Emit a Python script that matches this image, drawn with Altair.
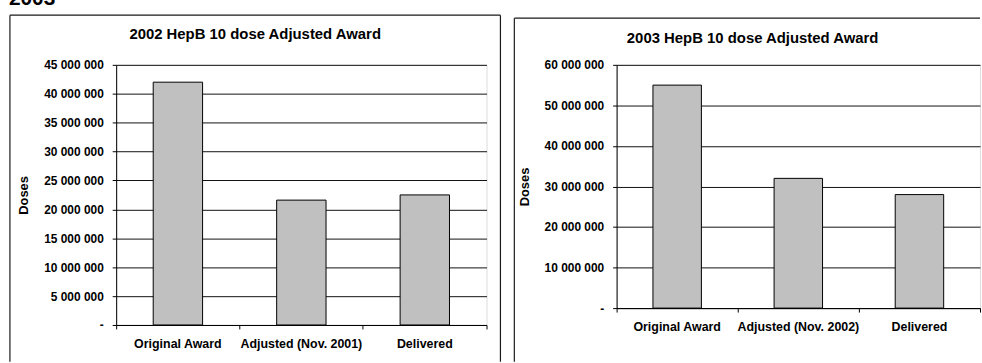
import altair as alt
import pandas as pd

# Award figures (doses) per year
categories_2002 = ["Original Award", "Adjusted (Nov. 2001)", "Delivered"]
doses_2002 = [42_000_000, 21_600_000, 22_500_000]
ticks_2002 = [0, 5_000_000, 10_000_000, 15_000_000, 20_000_000,
              25_000_000, 30_000_000, 35_000_000, 40_000_000, 45_000_000]

categories_2003 = ["Original Award", "Adjusted (Nov. 2002)", "Delivered"]
doses_2003 = [55_000_000, 32_000_000, 28_000_000]
ticks_2003 = [0, 10_000_000, 20_000_000, 30_000_000, 40_000_000,
              50_000_000, 60_000_000]

FONT = "Liberation Sans"
# "45 000 000" style numbers, zero shown as a dash
LABEL_EXPR = ("datum.value == 0 ? '-' : "
              "replace(replace(format(datum.value, ','), ',', ' '), ',', ' ')")

ONE_ROW = pd.DataFrame({"k": [0]})


def frame_line(x, x2, y, y2):
    # one edge of the box drawn round a chart
    return alt.Chart(ONE_ROW).mark_rule(
        color="#1a1a1a", strokeWidth=1.2
    ).encode(x=alt.value(x), x2=alt.value(x2), y=alt.value(y), y2=alt.value(y2))


def label(text, x, y, size, align="center"):
    return alt.Chart(ONE_ROW).mark_text(
        text=text, font=FONT, fontSize=size, fontWeight="bold", color="black",
        align=align, baseline="alphabetic",
    ).encode(x=alt.value(x), y=alt.value(y))


def panel(cats, vals, ticks, width, height, extras):
    df = pd.DataFrame({"category": cats, "doses": vals})
    bars = alt.Chart(df).mark_bar(
        color="#C0C0C0", stroke="black", strokeWidth=1,
        width=alt.RelativeBandSize(0.4),
    ).encode(
        x=alt.X(
            "category:N", sort=cats, title=None,
            scale=alt.Scale(paddingInner=0, paddingOuter=0),
            axis=alt.Axis(
                labelAngle=0, bandPosition=1, tickExtra=True, grid=False,
                domainColor="black", tickColor="black", tickSize=4,
                labelFont=FONT, labelFontSize=12.5, labelFontWeight="bold",
                labelColor="black", labelPadding=9,
            ),
        ),
        y=alt.Y(
            "doses:Q", title="Doses",
            scale=alt.Scale(domain=[0, ticks[-1]], nice=False),
            axis=alt.Axis(
                values=ticks, labelExpr=LABEL_EXPR, grid=True,
                gridColor="#111111", gridWidth=1,
                domainColor="black", tickColor="black", tickSize=4,
                labelFont=FONT, labelFontSize=12, labelFontWeight="bold",
                labelColor="black", labelPadding=9,
                titleFont=FONT, titleFontSize=13, titleFontWeight="bold",
                titleColor="black", titlePadding=13,
            ),
        ),
    )
    return alt.layer(bars, *extras).properties(width=width, height=height)


left = panel(
    categories_2002, doses_2002, ticks_2002, 373, 262,
    [
        frame_line(-107, 387, -50, -50),
        frame_line(-107, -107, -50, 299),
        frame_line(387, 387, -50, 299),
        label("2002 HepB 10 dose Adjusted Award", 140, -26, 15),
        label("2003", -108, -60, 21, align="left"),
    ],
)

right = panel(
    categories_2003, doses_2003, ticks_2003, 366, 245,
    [
        frame_line(-103, 366, -47, -47),
        frame_line(-103, -103, -47, 299),
        label("2003 HepB 10 dose Adjusted Award", 137, -22, 15),
    ],
)

chart = alt.hconcat(left, right, spacing=10).properties(
    padding={"left": 8, "top": -14, "right": 0, "bottom": 0},
).configure_view(stroke="#A0A0A0", strokeWidth=1).configure(background="white")

chart.save("out.html", embed_options={"renderer": "svg", "actions": False})
